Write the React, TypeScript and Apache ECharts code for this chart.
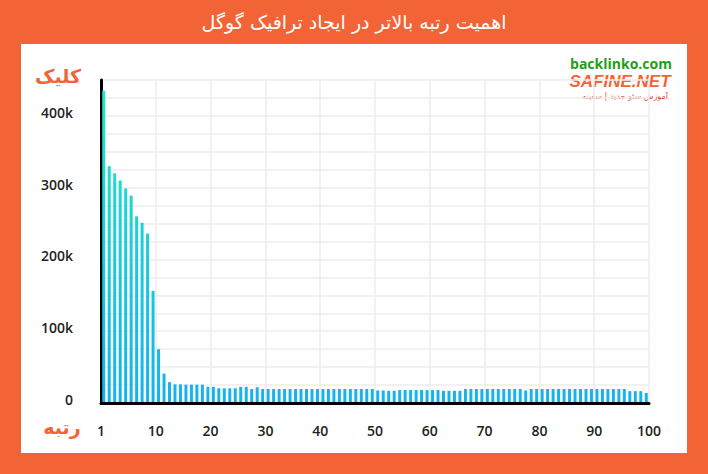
import React, { useEffect, useRef } from "react";
import * as echarts from "echarts";

const TITLE = "اهمیت رتبه بالاتر در ایجاد ترافیک گوگل";
const Y_NAME = "کلیک";
const X_NAME = "رتبه";
const SOURCE = "backlinko.com";
const BRAND = "SAFINE.NET";
const BRAND_SUB = "آموزش سئو جدید | سفینه";

const ranks: string[] = Array.from({ length: 100 }, (_, i) => String(i + 1));

// clicks in thousands
const clicks: number[] = [
  435, 330, 320, 310, 299, 289, 260, 251, 236, 156,
  75, 41, 29, 26, 26, 25.5, 25.5, 25.5, 25.5, 22.5,
  22.5, 20.5, 20.5, 20.5, 20.5, 22.5, 22.5, 19.5, 22, 19.5,
  19.5, 19.5, 19.5, 19.5, 19.5, 19.5, 19.5, 19.5, 19.5, 19.5,
  19.5, 19.5, 19.5, 19.5, 19.5, 19.5, 19.5, 19.5, 19.5, 19.5,
  17.5, 17.5, 17, 17, 18, 18, 18, 18, 18, 18,
  18, 18, 17, 17, 17, 17, 19.5, 19.5, 19.5, 19.5,
  19.5, 19.5, 19.5, 19.5, 19.5, 19.5, 19.5, 17.5, 19.5, 19.5,
  19.5, 19.5, 19.5, 19.5, 19.5, 19.5, 19.5, 19.5, 19.5, 19.5,
  19.5, 19.5, 19.5, 19.5, 19.5, 19.5, 16.5, 16.5, 16.5, 14,
];

const ORANGE = "#f26436";
const NUM_FONT = "'Open Sans', sans-serif";
const FA_FONT = "'DejaVu Sans', sans-serif";

export default function App() {
  const ref = useRef<HTMLDivElement>(null);
  useEffect(() => {
    if (!ref.current) return;
    const chart = echarts.init(ref.current, undefined, { renderer: "svg" });
    const grad = new echarts.graphic.LinearGradient(
      0, 80, 0, 403,
      [
        { offset: 0, color: "#20eac4" },
        { offset: 0.5, color: "#1bcfd8" },
        { offset: 1, color: "#14b2ee" },
      ],
      true
    );
    chart.setOption({
      animation: false,
      backgroundColor: ORANGE,
      grid: { left: 101, right: 59, top: 80, bottom: 71 },
      xAxis: [
        {
          type: "category",
          data: ranks,
          boundaryGap: true,
          axisLine: { show: true, lineStyle: { color: "#000", width: 3 } },
          axisTick: { show: false },
          axisLabel: { show: false },
          splitLine: { show: false },
          z: 5,
        },
        {
          type: "value",
          position: "bottom",
          min: 0,
          max: 100,
          interval: 10,
          axisLine: { show: false },
          axisTick: { show: false },
          axisLabel: {
            margin: 20,
            color: "#222",
            fontSize: 14,
            fontWeight: 600,
            fontFamily: NUM_FONT,
            formatter: (v: number) => (v === 0 ? "1" : String(v)),
          },
          splitLine: { show: true, lineStyle: { color: "#ececec", width: 1.5 } },
        },
      ],
      yAxis: {
        type: "value",
        min: 0,
        max: 450,
        interval: 25,
        axisLine: { show: true, lineStyle: { color: "#000", width: 3 } },
        axisTick: { show: false },
        axisLabel: {
          margin: 28,
          color: "#222",
          fontSize: 14,
          fontWeight: 600,
          fontFamily: NUM_FONT,
          verticalAlign: "bottom",
          lineHeight: 7,
          formatter: (v: number) => (v === 0 ? "0" : v % 100 === 0 ? v + "k" : ""),
        },
        splitLine: { show: true, lineStyle: { color: "#ececec", width: 1.5 } },
      },
      series: [
        {
          type: "bar",
          xAxisIndex: 0,
          data: clicks,
          barWidth: 3,
          itemStyle: { color: grad },
          z: 3,
        },
      ],
      graphic: [
        {
          type: "rect",
          z: -10,
          silent: true,
          shape: { x: 21, y: 44, width: 666, height: 409 },
          style: { fill: "#fff" },
        },
        {
          type: "text",
          x: 354,
          y: 22,
          style: {
            text: TITLE,
            fill: "#fff",
            fontSize: 19,
            fontFamily: FA_FONT,
            align: "center",
            verticalAlign: "middle",
          },
        },
        {
          type: "text",
          x: 58,
          y: 76,
          style: {
            text: Y_NAME,
            fill: ORANGE,
            fontSize: 19,
            fontWeight: "bold",
            fontFamily: FA_FONT,
            align: "center",
            verticalAlign: "middle",
          },
        },
        {
          type: "text",
          x: 62,
          y: 427,
          style: {
            text: X_NAME,
            fill: ORANGE,
            fontSize: 19,
            fontWeight: "bold",
            fontFamily: FA_FONT,
            align: "center",
            verticalAlign: "middle",
          },
        },
        {
          type: "text",
          x: 621,
          y: 63,
          style: {
            text: SOURCE,
            fill: "#1f9e1c",
            fontSize: 14,
            fontWeight: "bold",
            fontFamily: NUM_FONT,
            align: "center",
            verticalAlign: "middle",
          },
        },
        {
          type: "text",
          x: 620,
          y: 81,
          style: {
            text: BRAND,
            fill: ORANGE,
            fontSize: 17,
            fontWeight: "bold",
            fontStyle: "italic",
            fontFamily: "'Liberation Sans', sans-serif",
            align: "center",
            verticalAlign: "middle",
          },
        },
        {
          type: "text",
          x: 668,
          y: 96,
          style: {
            text: BRAND_SUB,
            fill: "#e0442a",
            fontSize: 8,
            fontFamily: FA_FONT,
            align: "right",
            verticalAlign: "middle",
          },
        },
      ],
    });
    return () => chart.dispose();
  }, []);
  return (
    <div
      ref={ref}
      style={{ position: "fixed", left: 0, top: 0, width: 708, height: 474 }}
    />
  );
}
